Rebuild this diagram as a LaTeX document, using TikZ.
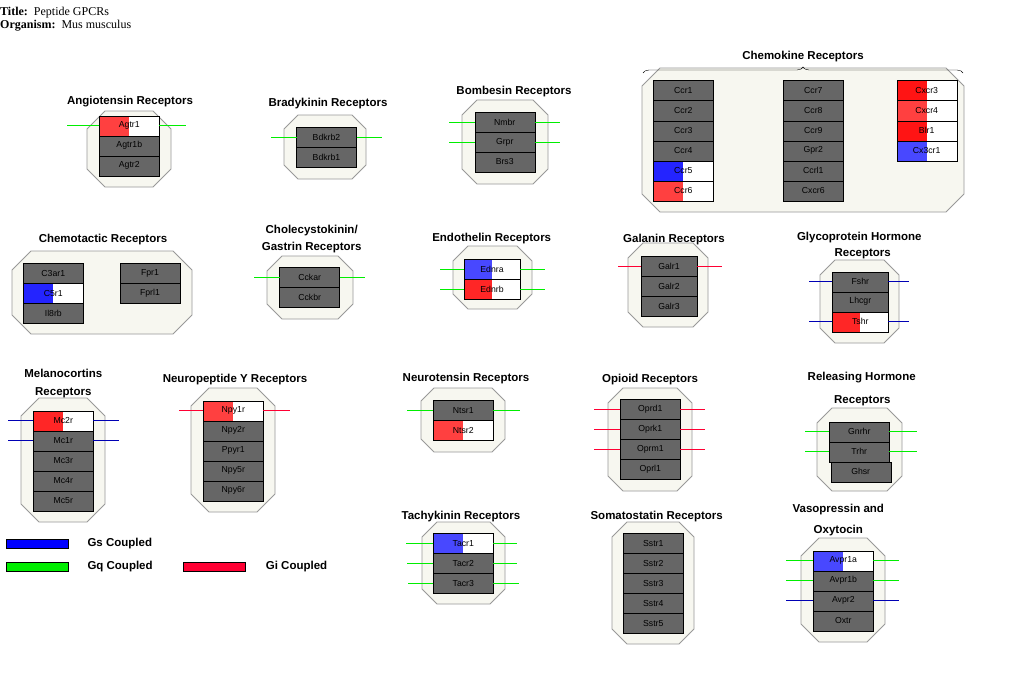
\documentclass[tikz,border=0pt]{standalone}
\usepackage{fontspec}
\setmainfont{Liberation Serif}
\setsansfont{Liberation Sans}
\usetikzlibrary{positioning,decorations.pathreplacing}

\definecolor{boxgray}{HTML}{666666}
\definecolor{grpfill}{HTML}{F7F7F0}
\definecolor{grpline}{HTML}{999999}
\definecolor{gsblue}{HTML}{0000FF}
\definecolor{gqgreen}{HTML}{00EE00}
\definecolor{gired}{HTML}{FF0033}
\definecolor{lineblue}{HTML}{0000B4}
\definecolor{redA}{HTML}{FF4040}
\definecolor{redB}{HTML}{FF1414}
\definecolor{redC}{HTML}{FF2626}
\definecolor{blueA}{HTML}{4848FF}
\definecolor{blueB}{HTML}{2424FF}

% octagon behind a receptor family: x1, y1, x2, y2, cut
\newcommand{\grpoct}[5]{%
  \draw[grp] (#1+#5,#2) -- (#3-#5,#2) -- (#3,#2+#5) -- (#3,#4-#5)
    -- (#3-#5,#4) -- (#1+#5,#4) -- (#1,#4-#5) -- (#1,#2+#5) -- cycle;}

\tikzset{
  gene/.style={draw=black, fill=boxgray, minimum width=60, minimum height=20,
    inner sep=0, outer sep=0, font=\sffamily\fontsize{8.7}{9}\selectfont},
  narrow/.style={minimum width=56},
  half/.style={fill=white, path picture={\fill[#1] (path picture bounding box.south west)
    rectangle (path picture bounding box.north);}},
  grp/.style={draw=grpline, fill=grpfill, line width=0.9},
  grptitle/.style={font=\sffamily\bfseries\fontsize{11.5}{13}\selectfont, inner sep=0},
  legbar/.style={draw=black, minimum width=62, minimum height=9, inner sep=0, anchor=west},
  gq/.style={draw=gqgreen, line width=0.9},
  gi/.style={draw=gired, line width=0.9},
  gs/.style={draw=lineblue, line width=0.9}
}

\begin{document}
\begin{tikzpicture}[x=1pt, y=-1pt, node distance=0pt]
\useasboundingbox (0,0) rectangle (1010,677);
\fill[white] (0,0) rectangle (1010,677);

\node[anchor=west, inner sep=0, font=\fontsize{12}{13}\selectfont] (title) at (0,13) {\textbf{Title:}\enspace Peptide GPCRs};
\node[anchor=west, inner sep=0, font=\fontsize{12}{13}\selectfont] (organism) at (0,26) {\textbf{Organism:}\enspace Mus musculus};

% Angiotensin
\grpoct{87}{111}{171}{187}{18}
\node[grptitle] (angtitle) at (130,102) {Angiotensin Receptors};
\node[gene, half=redA] (agtr1) at (129.3,125.7) {Agtr1};
\node[gene, below=of agtr1] (agtr1b) {Agtr1b};
\node[gene, below=of agtr1b] (agtr2) {Agtr2};
\draw[gq] (agtr1.west) -- +(-32,0);
\draw[gq] (agtr1.east) -- +(27,0);

% Bradykinin
\grpoct{284}{115}{366}{179}{14}
\node[grptitle] (bdktitle) at (328,104) {Bradykinin Receptors};
\node[gene, thick] (bdkrb2) at (326.5,137.7) {Bdkrb2};
\node[gene, thick, below=of bdkrb2] (bdkrb1) {Bdkrb1};
\draw[gq] (bdkrb2.west) -- +(-26,0);
\draw[gq] (bdkrb2.east) -- +(25,0);

% Bombesin
\grpoct{462}{100}{548}{184}{15}
\node[grptitle] (bomtitle) at (514,92) {Bombesin Receptors};
\node[gene] (nmbr) at (504.7,122) {Nmbr};
\node[gene, below=of nmbr] (grpr) {Grpr};
\node[gene, below=of grpr] (brs3) {Brs3};
\draw[gq] (nmbr.west) -- +(-26,0);
\draw[gq] (nmbr.east) -- +(25,0);
\draw[gq] (grpr.west) -- +(-26,0);
\draw[gq] (grpr.east) -- +(25,0);

% Chemokine
\grpoct{642}{68}{964}{212}{18}
\draw[decorate, decoration={brace, amplitude=6}] (643,73) -- (963,73);
\node[grptitle] (ccltitle) at (803,57) {Chemokine Receptors};
\node[gene] (ccr1) at (683.3,90.7) {Ccr1};
\node[gene, below=of ccr1] (ccr2) {Ccr2};
\node[gene, below=of ccr2] (ccr3) {Ccr3};
\node[gene, below=of ccr3] (ccr4) {Ccr4};
\node[gene, half=blueB, below=of ccr4] (ccr5) {Ccr5};
\node[gene, half=redA, below=of ccr5] (ccr6) {Ccr6};
\node[gene] (ccr7) at (813.3,90.7) {Ccr7};
\node[gene, below=of ccr7] (ccr8) {Ccr8};
\node[gene, below=of ccr8] (ccr9) {Ccr9};
\node[gene, below=of ccr9] (gpr2) {Gpr2};
\node[gene, below=of gpr2] (ccrl1) {Ccrl1};
\node[gene, below=of ccrl1] (cxcr6) {Cxcr6};
\node[gene, half=redB] (cxcr3) at (926.7,90.7) {Cxcr3};
\node[gene, half=redA, below=of cxcr3] (cxcr4) {Cxcr4};
\node[gene, half=redB, below=of cxcr4] (blr1) {Blr1};
\node[gene, half=blueA, below=of blr1] (cx3cr1) {Cx3cr1};

% Chemotactic
\grpoct{12}{251}{192}{334}{19}
\node[grptitle] (cmttitle) at (103,240) {Chemotactic Receptors};
\node[gene] (c3ar1) at (53.3,273.3) {C3ar1};
\node[gene, half=blueB, below=of c3ar1] (c5r1) {C5r1};
\node[gene, below=of c5r1] (il8rb) {Il8rb};
\node[gene] (fpr1) at (150,273.3) {Fpr1};
\node[gene, below=of fpr1] (fprl1) {Fprl1};

% Cholecystokinin
\grpoct{267}{256}{353}{319}{15}
\node[grptitle] (ccktitle) at (311.7,231) {Cholecystokinin/};
\node[grptitle] (ccktitleb) at (311.7,248) {Gastrin Receptors};
\node[gene, thick] (cckar) at (309.7,277.7) {Cckar};
\node[gene, thick, below=of cckar] (cckbr) {Cckbr};
\draw[gq] (cckar.west) -- +(-26,0);
\draw[gq] (cckar.east) -- +(25,0);

% Endothelin
\grpoct{453}{246}{532}{309}{15}
\node[grptitle] (edntitle) at (491.7,239) {Endothelin Receptors};
\node[gene, narrow, half=blueA, thick] (ednra) at (492,269) {Ednra};
\node[gene, narrow, half=redC, thick, below=of ednra] (ednrb) {Ednrb};
\draw[gq] (ednra.west) -- +(-24,0);
\draw[gq] (ednra.east) -- +(25,0);
\draw[gq] (ednrb.west) -- +(-24,0);
\draw[gq] (ednrb.east) -- +(25,0);

% Galanin
\grpoct{628}{243}{708}{327}{15}
\node[grptitle] (galtitle) at (674,240) {Galanin Receptors};
\node[gene, narrow] (galr1) at (669,266) {Galr1};
\node[gene, narrow, below=of galr1] (galr2) {Galr2};
\node[gene, narrow, below=of galr2] (galr3) {Galr3};
\draw[gi] (galr1.west) -- +(-23,0);
\draw[gi] (galr1.east) -- +(25,0);

% Glycoprotein hormone
\grpoct{820}{260}{899}{343}{15}
\node[grptitle] (glytitle) at (859.3,238) {Glycoprotein Hormone};
\node[grptitle] (glytitleb) at (862.7,254) {Receptors};
\node[gene, narrow] (fshr) at (860.3,281.7) {Fshr};
\node[gene, narrow, below=of fshr] (lhcgr) {Lhcgr};
\node[gene, narrow, half=redC, below=of lhcgr] (tshr) {Tshr};
\draw[gs] (fshr.west) -- +(-23,0);
\draw[gs] (fshr.east) -- +(21,0);
\draw[gs] (tshr.west) -- +(-23,0);
\draw[gs] (tshr.east) -- +(21,0);

% Melanocortins
\grpoct{21}{398}{105}{522}{18}
\node[grptitle] (mctitle) at (63.3,373) {Melanocortins};
\node[grptitle] (mctitleb) at (63.3,393) {Receptors};
\node[gene, half=redC] (mc2r) at (63.3,420.7) {Mc2r};
\node[gene, below=of mc2r] (mc1r) {Mc1r};
\node[gene, below=of mc1r] (mc3r) {Mc3r};
\node[gene, below=of mc3r] (mc4r) {Mc4r};
\node[gene, below=of mc4r] (mc5r) {Mc5r};
\draw[gs] (mc2r.west) -- +(-25,0);
\draw[gs] (mc2r.east) -- +(26,0);
\draw[gs] (mc1r.west) -- +(-25,0);
\draw[gs] (mc1r.east) -- +(26,0);

% Neuropeptide Y
\grpoct{191}{388}{275}{512}{18}
\node[grptitle] (npytitle) at (235,380) {Neuropeptide Y Receptors};
\node[gene, half=redA] (npy1r) at (233.3,410.7) {Npy1r};
\node[gene, below=of npy1r] (npy2r) {Npy2r};
\node[gene, below=of npy2r] (ppyr1) {Ppyr1};
\node[gene, below=of ppyr1] (npy5r) {Npy5r};
\node[gene, below=of npy5r] (npy6r) {Npy6r};
\draw[gi] (npy1r.west) -- +(-24,0);
\draw[gi] (npy1r.east) -- +(27,0);

% Neurotensin
\grpoct{421}{388}{505}{452}{13}
\node[grptitle] (ntstitle) at (466,379) {Neurotensin Receptors};
\node[gene] (ntsr1) at (463.3,410.3) {Ntsr1};
\node[gene, half=redA, below=of ntsr1] (ntsr2) {Ntsr2};
\draw[gq] (ntsr1.west) -- +(-26,0);
\draw[gq] (ntsr1.east) -- +(27,0);

% Opioid
\grpoct{608}{388}{692}{491}{15}
\node[grptitle] (opititle) at (650,380) {Opioid Receptors};
\node[gene] (oprd1) at (650.3,409.3) {Oprd1};
\node[gene, below=of oprd1] (oprk1) {Oprk1};
\node[gene, below=of oprk1] (oprm1) {Oprm1};
\node[gene, below=of oprm1] (oprl1) {Oprl1};
\draw[gi] (oprd1.west) -- +(-26,0);
\draw[gi] (oprd1.east) -- +(25,0);
\draw[gi] (oprk1.west) -- +(-26,0);
\draw[gi] (oprk1.east) -- +(25,0);
\draw[gi] (oprm1.west) -- +(-26,0);
\draw[gi] (oprm1.east) -- +(25,0);

% Releasing hormone
\grpoct{817}{408}{902}{491}{15}
\node[grptitle] (reltitle) at (861.7,378) {Releasing Hormone};
\node[grptitle] (reltitleb) at (862.3,401) {Receptors};
\node[gene] (gnrhr) at (859.3,431.7) {Gnrhr};
\node[gene, below=of gnrhr] (trhr) {Trhr};
\node[gene] (ghsr) at (860.7,471.7) {Ghsr};
\draw[gq] (gnrhr.west) -- +(-24,0);
\draw[gq] (gnrhr.east) -- +(28,0);
\draw[gq] (trhr.west) -- +(-24,0);
\draw[gq] (trhr.east) -- +(28,0);

% Tachykinin
\grpoct{422}{522}{505}{604}{15}
\node[grptitle] (tactitle) at (461,517) {Tachykinin Receptors};
\node[gene, half=blueA] (tacr1) at (463.3,543.3) {Tacr1};
\node[gene, below=of tacr1] (tacr2) {Tacr2};
\node[gene, below=of tacr2] (tacr3) {Tacr3};
\draw[gq] (tacr1.west) -- +(-27,0);
\draw[gq] (tacr1.east) -- +(24,0);
\draw[gq] (tacr2.west) -- +(-26,0);
\draw[gq] (tacr2.east) -- +(24,0);
\draw[gq] (tacr3.west) -- +(-25,0);
\draw[gq] (tacr3.east) -- +(26,0);

% Somatostatin
\grpoct{612}{522}{694}{644}{15}
\node[grptitle] (ssttitle) at (656.7,517) {Somatostatin Receptors};
\node[gene] (sstr1) at (653.3,543.3) {Sstr1};
\node[gene, below=of sstr1] (sstr2) {Sstr2};
\node[gene, below=of sstr2] (sstr3) {Sstr3};
\node[gene, below=of sstr3] (sstr4) {Sstr4};
\node[gene, below=of sstr4] (sstr5) {Sstr5};

% Vasopressin and oxytocin
\grpoct{801}{538}{885}{642}{18}
\node[grptitle] (avptitle) at (838.3,510) {Vasopressin and};
\node[grptitle] (avptitleb) at (838.3,531) {Oxytocin};
\node[gene, half=blueA] (avpr1a) at (843.3,560.7) {Avpr1a};
\node[gene, below=of avpr1a] (avpr1b) {Avpr1b};
\node[gene, below=of avpr1b] (avpr2) {Avpr2};
\node[gene, below=of avpr2] (oxtr) {Oxtr};
\draw[gq] (avpr1a.west) -- +(-27,0);
\draw[gq] (avpr1a.east) -- +(26,0);
\draw[gq] (avpr1b.west) -- +(-27,0);
\draw[gq] (avpr1b.east) -- +(26,0);
\draw[gs] (avpr2.west) -- +(-27,0);
\draw[gs] (avpr2.east) -- +(26,0);

% legend
\node[legbar, fill=gsblue] (gsbar) at (6,543.3) {};
\node[legbar, fill=gqgreen] (gqbar) at (6,567) {};
\node[legbar, fill=gired] (gibar) at (182.7,567) {};
\node[grptitle, anchor=west] (gslabel) at (87.3,543.3) {Gs Coupled};
\node[grptitle, anchor=west] (gqlabel) at (87.3,567) {Gq Coupled};
\node[grptitle, anchor=west] (gilabel) at (265.7,567) {Gi Coupled};
\end{tikzpicture}
\end{document}
